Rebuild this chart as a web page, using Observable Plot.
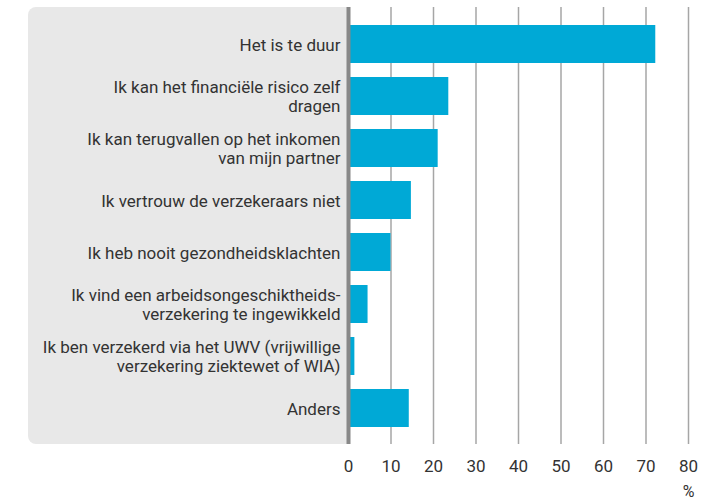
<!DOCTYPE html>
<html><head><meta charset="utf-8">
<script src="https://cdn.jsdelivr.net/npm/d3@7"></script>
<script src="https://cdn.jsdelivr.net/npm/@observablehq/plot@0.6"></script>
<style>body{margin:0;background:#fff}</style>
</head><body><div id="chart"></div>
<script>
const categories = [
  "Het is te duur",
  "Ik kan het financiële risico zelf dragen",
  "Ik kan terugvallen op het inkomen van mijn partner",
  "Ik vertrouw de verzekeraars niet",
  "Ik heb nooit gezondheidsklachten",
  "Ik vind een arbeidsongeschiktheidsverzekering te ingewikkeld",
  "Ik ben verzekerd via het UWV (vrijwillige verzekering ziektewet of WIA)",
  "Anders"
];
const categoryLabels = [
  "Het is te duur",
  "Ik kan het financiële risico zelf\ndragen",
  "Ik kan terugvallen op het inkomen\nvan mijn partner",
  "Ik vertrouw de verzekeraars niet",
  "Ik heb nooit gezondheidsklachten",
  "Ik vind een arbeidsongeschiktheids-\nverzekering te ingewikkeld",
  "Ik ben verzekerd via het UWV (vrijwillige\nverzekering ziektewet of WIA)",
  "Anders"
];
const values = [72.3, 23.6, 21.1, 14.8, 10.0, 4.6, 1.5, 14.3];
const xTicks = [0, 10, 20, 30, 40, 50, 60, 70, 80];
const unitLabel = "%";

const data = categories.map((c, i) => ({category: c, value: values[i]}));
const labelOf = new Map(categories.map((c, i) => [c, categoryLabels[i]]));

const panel = (index, scales, vals, dims) => {
  const x0 = 28, x1 = dims.marginLeft, y0 = dims.marginTop, y1 = dims.height - dims.marginBottom, r = 8;
  const p = document.createElementNS("http://www.w3.org/2000/svg", "path");
  p.setAttribute("d", `M${x1},${y0}H${x0 + r}A${r},${r} 0 0 0 ${x0},${y0 + r}V${y1 - r}A${r},${r} 0 0 0 ${x0 + r},${y1}H${x1}Z`);
  p.setAttribute("fill", "#e8e8e8");
  return p;
};

const chart = Plot.plot({
  width: 713, height: 501,
  marginTop: 7, marginBottom: 57, marginLeft: 348, marginRight: 25,
  style: {fontFamily: "Roboto", fontSize: "16px", color: "#333", background: "#fff"},
  x: {domain: [0, 80]},
  y: {domain: categories, paddingInner: 0.273, paddingOuter: 0.316},
  marks: [
    panel,
    Plot.gridX(xTicks, {stroke: "#a6a6a6", strokeOpacity: 1, strokeWidth: 1.5}),
    Plot.barX(data, {x: "value", y: "category", fill: "#00a9d6"}),
    Plot.ruleX([0], {stroke: "#888", strokeWidth: 4}),
    Plot.axisY({tickSize: 0, tickPadding: 8, tickFormat: c => labelOf.get(c), fontSize: 17, lineHeight: 1.13, label: null}),
    Plot.axisX(xTicks, {tickSize: 0, tickPadding: 15, fontSize: 17, label: null}),
    Plot.text([unitLabel], {x: xTicks[xTicks.length - 1], text: d => d, frameAnchor: "bottom", dy: 52, fontSize: 16, fill: "#333"})
  ]
});
document.getElementById("chart").appendChild(chart);
</script>
</body></html>
